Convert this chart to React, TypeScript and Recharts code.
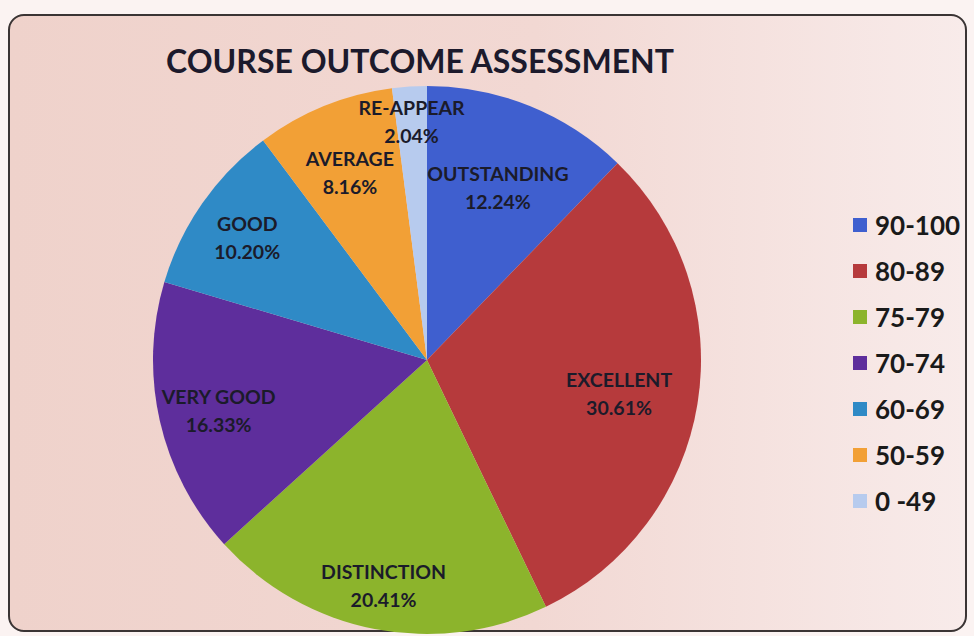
import { PieChart, Pie, Legend } from 'recharts';

const GRADES = ['OUTSTANDING', 'EXCELLENT', 'DISTINCTION', 'VERY GOOD', 'GOOD', 'AVERAGE', 'RE-APPEAR'];
const RANGES = ['90-100', '80-89', '75-79', '70-74', '60-69', '50-59', '0 -49'];
const SHARES = [12.24, 30.61, 20.41, 16.33, 10.2, 8.16, 2.04];
const COLORS = ['#3f5fcf', '#b63a3c', '#8cb42c', '#5e2e9c', '#2f8ac6', '#f2a036', '#b7cbee'];

// how far out (fraction of radius) each slice label sits, like Excel's best fit
const LABEL_POS = [0.69, 0.71, 0.83, 0.78, 0.8, 0.75, 0.88];

const data = SHARES.map((v, i) => ({
  grade: GRADES[i],
  range: RANGES[i],
  value: v,
  fill: COLORS[i],
}));

const RAD = Math.PI / 180;
const FONT = 'Lato, "Open Sans", sans-serif';

function SliceLabel(props: any) {
  const { cx, cy, midAngle, outerRadius, index } = props;
  const r = outerRadius * LABEL_POS[index];
  const x = cx + r * Math.cos(-midAngle * RAD);
  const y = cy + r * Math.sin(-midAngle * RAD);
  const d = data[index];
  return (
    <text
      x={x}
      y={y}
      textAnchor="middle"
      fill="#1b1b2a"
      fontFamily={FONT}
      fontWeight={700}
      fontSize={19.5}
    >
      <tspan x={x} dy={-4}>{d.grade}</tspan>
      <tspan x={x} dy={28}>{d.value.toFixed(2)}%</tspan>
    </text>
  );
}

function LegendList(props: any) {
  const items = [...(props.payload || [])].sort(
    (a: any, b: any) => RANGES.indexOf(a.value) - RANGES.indexOf(b.value),
  );
  return (
    <div>
      {items.map((e: any, i: number) => (
        <div key={i} style={{ display: 'flex', alignItems: 'center', height: 46 }}>
          <span style={{ width: 14, height: 14, background: e.color, marginRight: 8, display: 'inline-block' }} />
          <span style={{ fontFamily: FONT, fontWeight: 700, fontSize: 26, color: '#1a1a1a' }}>{e.value}</span>
        </div>
      ))}
    </div>
  );
}

export default function App() {
  return (
    <div style={{ position: 'absolute', left: 0, top: 0, width: 974, height: 636, background: '#fbf3f2' }}>
      <div
        style={{
          position: 'absolute',
          left: 8,
          top: 14,
          width: 955,
          height: 614,
          border: '2px solid #3a3434',
          borderRadius: 16,
          background: 'linear-gradient(90deg, #efd2cb 0%, #f2d8d3 55%, #f8ebea 100%)',
        }}
      />
      <div style={{ position: 'absolute', left: 0, top: 0 }}>
        <PieChart width={974} height={636}>
          <text
            x={420}
            y={73}
            textAnchor="middle"
            fontFamily={FONT}
            fontWeight={700}
            fontSize={32}
            fill="#1c1a2c"
          >
            COURSE OUTCOME ASSESSMENT
          </text>
          <Pie
            data={data}
            dataKey="value"
            nameKey="range"
            cx={422}
            cy={355}
            outerRadius={274}
            startAngle={90}
            endAngle={-270}
            stroke="none"
            label={SliceLabel}
            labelLine={false}
            isAnimationActive={false}
          />
          <Legend
            content={LegendList}
            wrapperStyle={{ position: 'absolute', left: 853, top: 202, width: 120 }}
          />
        </PieChart>
      </div>
    </div>
  );
}
